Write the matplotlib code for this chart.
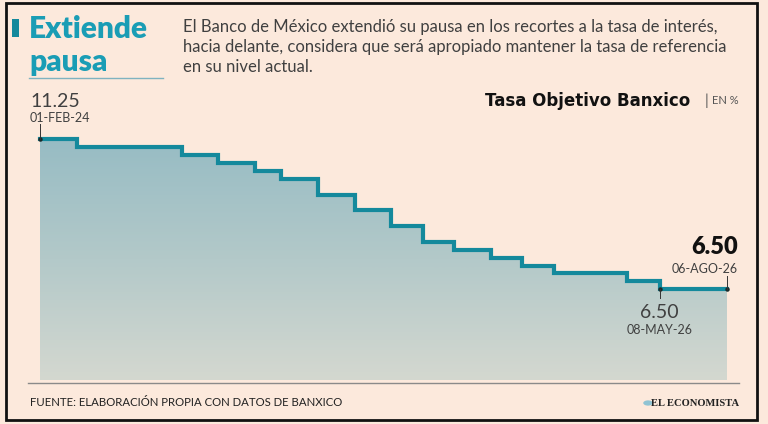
import matplotlib
matplotlib.use("Agg")
import matplotlib.pyplot as plt
import matplotlib.dates as mdates
import numpy as np
import pandas as pd
from matplotlib.colors import LinearSegmentedColormap
from matplotlib.patches import Rectangle
from matplotlib.lines import Line2D

# ---------------- data ----------------
dates = ["2024-02-01", "2024-03-21", "2024-08-08", "2024-09-26", "2024-11-14",
         "2024-12-19", "2025-02-06", "2025-03-27", "2025-05-15", "2025-06-26",
         "2025-08-07", "2025-09-25", "2025-11-06", "2025-12-18", "2026-03-26",
         "2026-05-08", "2026-08-06"]
rates = [11.25, 11.00, 10.75, 10.50, 10.25, 10.00, 9.50, 9.00, 8.50, 8.00,
         7.75, 7.50, 7.25, 7.00, 6.75, 6.50, 6.50]
first_label = ("11.25", "01-FEB-24")
pause_label = ("6.50", "08-MAY-26")
last_label = ("6.50", "06-AGO-26")

title_lines = ["Extiende", "pausa"]
subtitle = ("El Banco de México extendió su pausa en los recortes a la tasa de interés,\n"
            "hacia delante, considera que será apropiado mantener la tasa de referencia\n"
            "en su nivel actual.")
series_name = "Tasa Objetivo Banxico"
unit = "EN %"
source = "FUENTE: ELABORACIÓN PROPIA CON DATOS DE BANXICO"
brand = "EL ECONOMISTA"

# ---------------- style ----------------
BG = "#fce9dc"
TEAL = "#14899c"
TITLE_C = "#1a9db5"
TXT = "#404040"
W, H = 768, 424

def fx(px):
    return px / W

def fy(py):
    return 1 - py / H

fig = plt.figure(figsize=(W / 100, H / 100), dpi=100, facecolor=BG)

# axes: pixel x 40..727, y 100..380
ax = fig.add_axes([fx(40), fy(380), (727 - 40) / W, (380 - 100) / H])
ax.set_facecolor("none")
for s in ax.spines.values():
    s.set_visible(False)
ax.set_xticks([])
ax.set_yticks([])

d = pd.to_datetime(dates)
xn = mdates.date2num(d)
y = np.array(rates)
ybase = 3.62
ax.set_xlim(xn[0], xn[-1])
ax.set_ylim(ybase, 12.50)

# gradient fill under the step line
poly = ax.fill_between(xn, y, ybase, step="post", facecolor="none", edgecolor="none")
cmap = LinearSegmentedColormap.from_list("g", ["#97bcc4", "#b3c9c9", "#d4d8d0"])
grad = np.linspace(0, 1, 256).reshape(-1, 1)
im = ax.imshow(grad, cmap=cmap, aspect="auto",
               extent=[xn[0], xn[-1], ybase, y.max()], origin="upper", zorder=1)
im.set_clip_path(poly.get_paths()[0], transform=ax.transData)

ax.step(xn, y, where="post", color=TEAL, lw=3.0, zorder=3, clip_on=False,
        solid_joinstyle="miter")

# markers/ticks for labels
for xi, yi in [(xn[0], y[0]), (xn[-2], y[-2]), (xn[-1], y[-1])]:
    ax.plot([xi], [yi], marker="o", ms=2.2, color="#1a2a2a", zorder=4, clip_on=False)
ax.plot([xn[0], xn[0]], [y[0], y[0] + 0.5], color="#333333", lw=0.7, clip_on=False, zorder=4)
ax.plot([xn[-1], xn[-1]], [y[-1], y[-1] + 0.42], color="#333333", lw=0.7, clip_on=False, zorder=4)
ax.plot([xn[-2], xn[-2]], [y[-2], y[-2] - 0.28], color="#333333", lw=0.7, clip_on=False, zorder=4)

# labels
ax.annotate(first_label[0], (xn[0], y[0]), xytext=(-10, 38), textcoords="offset pixels",
            ha="left", va="center", fontsize=14, color=TXT, family="Lato")
ax.annotate(first_label[1], (xn[0], y[0]), xytext=(-10, 21), textcoords="offset pixels",
            ha="left", va="center", fontsize=9, color=TXT, family="Lato")
ax.annotate(pause_label[0], (xn[-2], y[-2]), xytext=(0, -23), textcoords="offset pixels",
            ha="center", va="center", fontsize=14, color=TXT, family="Lato")
ax.annotate(pause_label[1], (xn[-2], y[-2]), xytext=(0, -41), textcoords="offset pixels",
            ha="center", va="center", fontsize=9, color=TXT, family="Lato")
ax.annotate(last_label[0], (xn[-1], y[-1]), xytext=(11, 42), textcoords="offset pixels",
            ha="right", va="center", fontsize=17, color="#111111", family="Lato", fontweight="heavy")
ax.annotate(last_label[1], (xn[-1], y[-1]), xytext=(11, 20), textcoords="offset pixels",
            ha="right", va="center", fontsize=9, color=TXT, family="Lato")

# ---------------- decorations ----------------
fig.add_artist(Rectangle((fx(12), fy(37)), fx(7), (37 - 19) / H, transform=fig.transFigure,
                         facecolor="#14899c", edgecolor="none"))
fig.text(fx(29), fy(29), title_lines[0], fontsize=21.5, fontweight="heavy", color=TITLE_C,
         family="Lato", ha="left", va="center")
fig.text(fx(29), fy(62), title_lines[1], fontsize=21.5, fontweight="heavy", color=TITLE_C,
         family="Lato", ha="left", va="center")
fig.add_artist(Line2D([fx(29), fx(163)], [fy(78), fy(78)], transform=fig.transFigure,
                      color="#7fb3c0", lw=1))

fig.text(fx(183), fy(47), subtitle, fontsize=12, color=TXT, family="Lato",
         ha="left", va="center", linespacing=1.32)

fig.text(fx(690), fy(101), series_name, fontsize=12, fontweight="bold", color="#111111",
         family="DejaVu Sans", ha="right", va="center")
fig.text(fx(706), fy(101), "|", fontsize=11, color="#555555", family="Lato",
         ha="center", va="center")
fig.text(fx(712), fy(101), unit, fontsize=8, color="#555555", family="Lato",
         ha="left", va="center")

fig.add_artist(Line2D([fx(28), fx(739)], [fy(383), fy(383)], transform=fig.transFigure,
                      color="#8a8a8a", lw=1))
fig.text(fx(30), fy(403), source, fontsize=8.2, color="#222222", family="Lato",
         ha="left", va="center")
fig.text(fx(739), fy(403), brand, fontsize=7.6, color="#222222", family="Liberation Serif",
         fontweight="bold", ha="right", va="center")
fig.add_artist(plt.Circle((fx(648), fy(403)), 0.0062, transform=fig.transFigure,
                          facecolor="#8fc3d3", edgecolor="none"))

# frame
fig.add_artist(Rectangle((fx(6), fy(420)), fx(757 - 6), (420 - 3) / H, transform=fig.transFigure,
                         facecolor="none", edgecolor="#111111", lw=2))

fig.savefig("out.png", dpi=100, facecolor=BG)
